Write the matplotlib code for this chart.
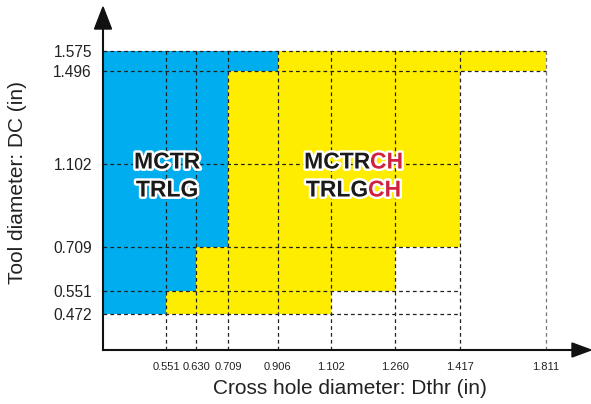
import numpy as np
import matplotlib
matplotlib.use('Agg')
import matplotlib.pyplot as plt
import matplotlib.patheffects as pe
from matplotlib.patches import Polygon

# chart values (inches)
x_ticks = [0.551, 0.630, 0.709, 0.906, 1.102, 1.260, 1.417, 1.811]
y_ticks = [0.472, 0.551, 0.709, 1.102, 1.496, 1.575]
band_edges = [0.472, 0.551, 0.709, 1.496, 1.575]   # DC bands, bottom to top
blue_right = [0.551, 0.630, 0.709, 0.906]          # MCTR / TRLG limit per band
yellow_right = [1.102, 1.260, 1.417, 1.811]        # MCTRCH / TRLGCH limit per band
hline_ends = [1.417, 1.417, 1.417, 1.417, 1.811, 1.811]

x_label = 'Cross hole diameter: Dthr (in)'
y_label = 'Tool diameter: DC (in)'

# the drawing is schematic: tick values are placed at fixed pixel columns/rows
x_lo, x_hi = 0.40, 2.00
y_lo, y_hi = 0.40, 1.70
x_scale_vals = [x_lo] + x_ticks + [x_hi]
x_scale_px = [0, 63, 93.3, 125.3, 174.7, 228, 291.7, 356.7, 443, 488]
y_scale_vals = [y_lo] + y_ticks + [y_hi]
y_scale_px = [0, 36.3, 59, 103.3, 185.7, 279.3, 299, 343]

BLUE = '#00aeef'
YELLOW = '#ffed00'
RED = '#d0223f'

def fwd(v, a, b):
    return np.interp(v, a, b)

W, H = 591, 404
fig = plt.figure(figsize=(W / 100, H / 100), dpi=100)
ax = fig.add_axes([103 / W, 54 / H, 488 / W, 343 / H])
ax.set_xscale('function', functions=(lambda v: fwd(v, x_scale_vals, x_scale_px),
                                     lambda p: fwd(p, x_scale_px, x_scale_vals)))
ax.set_yscale('function', functions=(lambda v: fwd(v, y_scale_vals, y_scale_px),
                                     lambda p: fwd(p, y_scale_px, y_scale_vals)))
ax.set_xlim(x_lo, x_hi)
ax.set_ylim(y_lo, y_hi)

# regions
for i in range(len(blue_right)):
    y0, y1 = band_edges[i], band_edges[i + 1]
    ax.fill_between([x_lo, blue_right[i]], y0, y1, color=BLUE, lw=0, zorder=1)
    ax.fill_between([blue_right[i], yellow_right[i]], y0, y1, color=YELLOW, lw=0, zorder=1)

# dashed grid
dash = dict(color='#222222', lw=0.9, ls=(0, (3, 2.5)), zorder=2)
for xv in x_ticks:
    c = '#777777' if xv == x_ticks[-1] else '#222222'
    ax.plot([xv, xv], [y_lo, y_ticks[-1]], **{**dash, 'color': c})
for yv, xe in zip(y_ticks, hline_ends):
    ax.plot([x_lo, xe], [yv, yv], **dash)

# ticks and labels
ax.set_xticks(x_ticks)
ax.set_xticklabels([f'{v:.3f}' for v in x_ticks], family='Liberation Sans', fontsize=8, color='#222222')
ax.set_yticks(y_ticks)
ax.set_yticklabels([f'{v:.3f}' for v in y_ticks], family='Liberation Sans', fontsize=11.2, color='#222222')
ax.tick_params(length=0, pad=8)
ax.tick_params(axis='x', pad=9)
for s in ax.spines.values():
    s.set_visible(False)

fig.text(350 / W, 1 - 388 / H, x_label, ha='center', va='center',
         family='Liberation Sans', fontsize=15, color='#222222')
fig.text(18 / W, 1 - 183 / H, y_label, ha='center', va='center', rotation=90,
         family='Liberation Sans', fontsize=15, color='#222222')

# axes with arrow heads (in axes fraction)
ax.plot([0, 0], [0, 1 - 20 / 343], color='#111111', lw=1.5, transform=ax.transAxes, clip_on=False, zorder=4)
ax.plot([0, 1 - 18 / 488], [0, 0], color='#111111', lw=1.5, transform=ax.transAxes, clip_on=False, zorder=4)
ax.add_patch(Polygon([[0, 1], [-8.5 / 488, 1 - 22 / 343], [8.5 / 488, 1 - 22 / 343]],
                     closed=True, color='#111111', transform=ax.transAxes, clip_on=False, zorder=5))
ax.add_patch(Polygon([[1, 0], [1 - 19 / 488, 7 / 343], [1 - 19 / 488, -7 / 343]],
                     closed=True, color='#111111', transform=ax.transAxes, clip_on=False, zorder=5))

# product labels
outline = [pe.withStroke(linewidth=3.5, foreground='white')]
lab = dict(fontsize=16.5, fontweight='bold', family='Liberation Sans', va='center',
           path_effects=outline, zorder=6)
ax.text((167 - 103) / 488, 1 - (162 - 7) / 343, 'MCTR', ha='center', color='#1a1a1a',
        transform=ax.transAxes, **lab)
ax.text((167 - 103) / 488, 1 - (190 - 7) / 343, 'TRLG', ha='center', color='#1a1a1a',
        transform=ax.transAxes, **lab)
ax.text((370 - 103) / 488, 1 - (162 - 7) / 343, 'MCTR', ha='right', color='#1a1a1a',
        transform=ax.transAxes, **lab)
ax.text((370 - 103) / 488, 1 - (162 - 7) / 343, 'CH', ha='left', color=RED,
        transform=ax.transAxes, **lab)
ax.text((368 - 103) / 488, 1 - (190 - 7) / 343, 'TRLG', ha='right', color='#1a1a1a',
        transform=ax.transAxes, **lab)
ax.text((368 - 103) / 488, 1 - (190 - 7) / 343, 'CH', ha='left', color=RED,
        transform=ax.transAxes, **lab)

fig.savefig('out.png', dpi=100)
